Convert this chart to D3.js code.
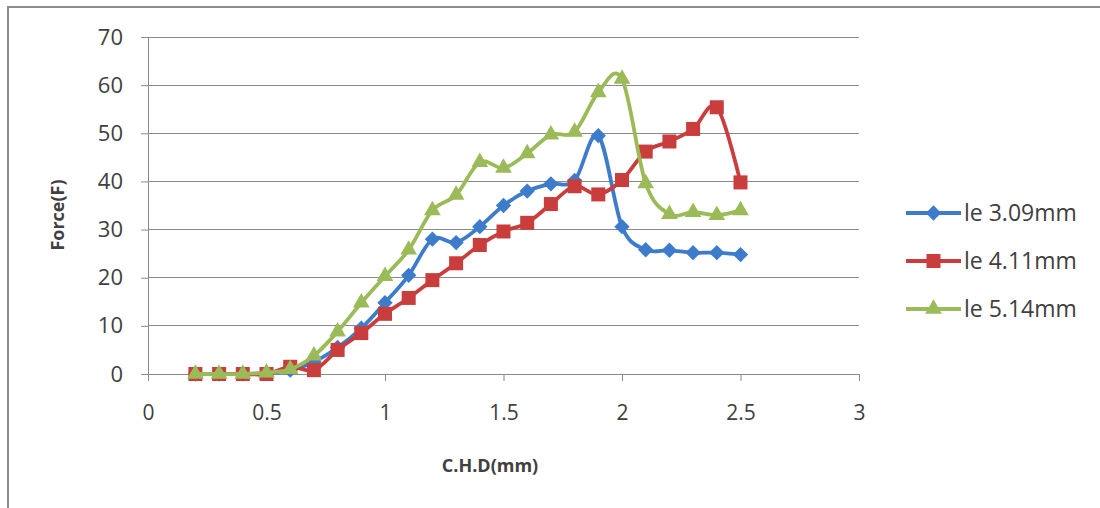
<!DOCTYPE html>
<html><head><meta charset="utf-8">
<script src="https://cdn.jsdelivr.net/npm/d3@7/dist/d3.min.js"></script>
<style>
html,body{margin:0;padding:0;background:#fff;}
svg text{font-family:"Open Sans",sans-serif;fill:#404040;}
</style></head>
<body><svg id="c" width="1100" height="508"></svg>
<script>
const xValues = [0.2,0.3,0.4,0.5,0.6,0.7,0.8,0.9,1.0,1.1,1.2,1.3,1.4,1.5,1.6,1.7,1.8,1.9,2.0,2.1,2.2,2.3,2.4,2.5];
const le309 = [0,0,0,0.2,0.8,2.5,5.5,9.5,14.8,20.5,28.0,27.3,30.6,35.0,38.0,39.5,40.2,49.5,30.6,25.8,25.7,25.2,25.2,24.8];
const le411 = [0,0,0,0,1.5,0.8,5.0,8.5,12.5,15.8,19.5,23.0,26.8,29.6,31.4,35.3,39.0,37.3,40.3,46.2,48.3,50.9,55.4,39.8];
const le514 = [0,0,0,0.3,1.0,3.8,8.8,14.8,20.3,25.8,34.0,37.2,44.0,42.8,45.8,49.7,50.3,58.5,61.3,39.6,33.2,33.6,33.0,34.0];
const seriesNames = ["le 3.09mm","le 4.11mm","le 5.14mm"];
const xTicks = [0,0.5,1,1.5,2,2.5,3];
const yTicks = [0,10,20,30,40,50,60,70];
const xTitle = "C.H.D(mm)";
const yTitle = "Force(F)";

const colors = ["#3D7CCB","#C93E3D","#9BBB59"];
const symbols = [d3.symbolDiamond2, d3.symbolSquare2, d3.symbolTriangle2];
const symSizes = [150, 250, 200];

const svg = d3.select("#c");
svg.append("rect").attr("x",8).attr("y",7).attr("width",1100).attr("height",520)
  .attr("fill","none").attr("stroke","#8c8c8c").attr("stroke-width",2);

const x = d3.scaleLinear().domain([0,3]).range([148,859]);
const y = d3.scaleLinear().domain([0,70]).range([374,37]);

svg.append("g").selectAll("line").data(yTicks).join("line")
  .attr("x1",x(0)).attr("x2",x(3)).attr("y1",d=>y(d)).attr("y2",d=>y(d))
  .attr("stroke","#8a8a8a").attr("stroke-width",1).attr("shape-rendering","crispEdges");

const ya = svg.append("g").attr("transform",`translate(${x(0)},0)`)
  .call(d3.axisLeft(y).tickValues(yTicks).tickSize(7).tickPadding(18).tickFormat(d3.format("d")));
ya.select(".domain").attr("stroke","#8a8a8a");
ya.selectAll(".tick line").attr("stroke","#8a8a8a");
ya.selectAll("text").style("font-size","22px").attr("fill","#404040");

const xa = svg.append("g").attr("transform",`translate(0,${y(0)})`)
  .call(d3.axisBottom(x).tickValues(xTicks).tickSize(7).tickPadding(24).tickFormat(d=>String(d)));
xa.select(".domain").attr("stroke","#8a8a8a");
xa.selectAll(".tick line").attr("stroke","#8a8a8a");
xa.selectAll("text").style("font-size","21px").attr("fill","#404040");

svg.append("text").attr("x",490).attr("y",472).attr("text-anchor","middle")
  .style("font-size","18px").style("font-weight","bold").text(xTitle);
svg.append("text").attr("transform","translate(64,215) rotate(-90)").attr("text-anchor","middle")
  .style("font-size","18px").style("font-weight","bold").text(yTitle);

const allSeries = [le309, le411, le514];
const line = d3.line().x((d,i)=>x(xValues[i])).y(d=>y(d)).curve(d3.curveCatmullRom.alpha(0));

allSeries.forEach((vals,k)=>{
  const g = svg.append("g");
  g.append("path").datum(vals).attr("d",line).attr("fill","none")
    .attr("stroke",colors[k]).attr("stroke-width",3.8).attr("stroke-linejoin","round");
  g.selectAll("path.m").data(vals).join("path").attr("class","m")
    .attr("transform",(d,i)=>`translate(${x(xValues[i])},${y(d)})`)
    .attr("d",d3.symbol().type(symbols[k]).size(symSizes[k]))
    .attr("fill",colors[k]);
});

const legY = [213,261,309];
seriesNames.forEach((n,k)=>{
  const g = svg.append("g").attr("transform",`translate(906,${legY[k]})`);
  g.append("line").attr("x1",0).attr("x2",55).attr("stroke",colors[k]).attr("stroke-width",3.8);
  g.append("path").attr("transform","translate(27.5,0)")
    .attr("d",d3.symbol().type(symbols[k]).size(symSizes[k])).attr("fill",colors[k]);
  g.append("text").attr("x",58).attr("dy","0.35em").style("font-size","23px").text(n);
});
</script></body></html>
